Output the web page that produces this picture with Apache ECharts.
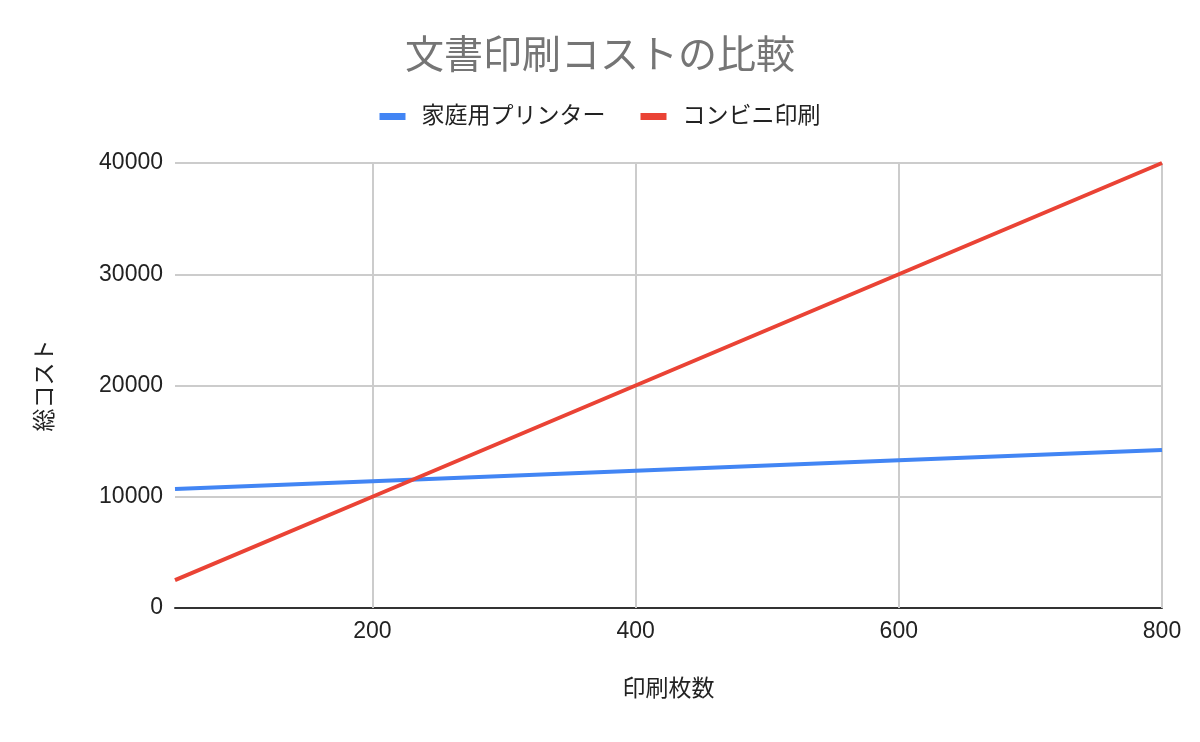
<!DOCTYPE html>
<html>
<head>
<meta charset="utf-8">
<script src="https://cdn.jsdelivr.net/npm/echarts@6/dist/echarts.min.js"></script>
<style>
  html, body { margin: 0; padding: 0; background: #fff; }
  #chart { width: 1200px; height: 742px; }
</style>
</head>
<body>
<div id="chart"></div>
<script>
// 印刷枚数 (x) と総コスト (y)
const pages = [50, 200, 400, 600, 800];
const homePrinter = [10700, 11400, 12330, 13270, 14200];
const convenience = [2500, 10000, 20000, 30000, 40000];
const xTicks = [200, 400, 600, 800];

const font = '"Liberation Sans", Arial, "Noto Sans CJK JP", sans-serif';

const toPairs = (xs, ys) => xs.map((x, i) => [x, ys[i]]);

const chart = echarts.init(document.getElementById('chart'));

chart.setOption({
    backgroundColor: '#fff',
    animation: false,
    textStyle: { fontFamily: font },
    title: {
        text: '文書印刷コストの比較',
        left: 'center',
        top: 33,
        textStyle: { fontSize: 39, fontWeight: 'normal', color: '#757575', fontFamily: font }
    },
    legend: {
        top: 100,
        left: 'center',
        itemWidth: 26,
        itemHeight: 7,
        itemGap: 35,
        icon: 'rect',
        textStyle: { fontSize: 23, color: '#222', fontFamily: font, padding: [0, 0, 0, 11] },
        data: ['家庭用プリンター', 'コンビニ印刷']
    },
    grid: { left: 175, right: 38, top: 163, bottom: 134 },
    xAxis: {
        type: 'value',
        min: 50,
        max: 800,
        name: '印刷枚数',
        nameLocation: 'middle',
        nameGap: 70,
        nameTextStyle: { fontSize: 23, color: '#222', fontFamily: font },
        axisLine: { show: true, lineStyle: { color: '#333', width: 2 } },
        axisTick: { show: false, customValues: xTicks },
        axisLabel: { customValues: xTicks, fontSize: 23, color: '#222', margin: 12, fontFamily: font },
        splitLine: { show: false }
    },
    yAxis: {
        type: 'value',
        min: 0,
        max: 40000,
        interval: 10000,
        name: '総コスト',
        nameLocation: 'middle',
        nameRotate: 90,
        nameGap: 118,
        nameTextStyle: { fontSize: 23, color: '#222', fontFamily: font },
        axisLine: { show: false },
        axisTick: { show: false },
        axisLabel: { fontSize: 23, color: '#222', margin: 12, fontFamily: font, formatter: v => String(v) },
        splitLine: { lineStyle: { color: '#cccccc', width: 2 } }
    },
    series: [
        {
            name: '家庭用プリンター',
            type: 'line',
            data: toPairs(pages, homePrinter),
            symbol: 'none',
            lineStyle: { color: '#4285f4', width: 4 },
            itemStyle: { color: '#4285f4' },
            z: 3
        },
        {
            name: 'コンビニ印刷',
            type: 'line',
            data: toPairs(pages, convenience),
            symbol: 'none',
            lineStyle: { color: '#ea4335', width: 4 },
            itemStyle: { color: '#ea4335' },
            z: 4,
            // 縦のグリッド線
            markLine: {
                silent: true,
                symbol: 'none',
                label: { show: false },
                lineStyle: { color: '#cccccc', width: 2, type: 'solid' },
                z: 1,
                data: xTicks.map(v => ({ xAxis: v }))
            }
        }
    ]
});
</script>
</body>
</html>
